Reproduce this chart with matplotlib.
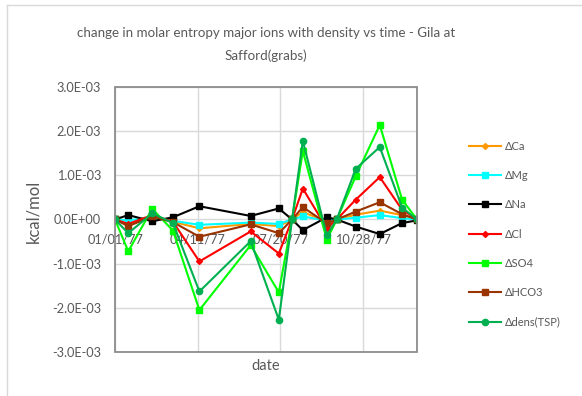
from datetime import date

import matplotlib
matplotlib.use('Agg')
import matplotlib.pyplot as plt
import matplotlib.dates as mdates
from matplotlib.lines import Line2D
from matplotlib.patches import Rectangle

plt.rcParams['font.family'] = ['Lato', 'DejaVu Sans']

# sample dates (Gila at Safford grabs, 1977)
dates = [date(1977, 1, 1), date(1977, 1, 17), date(1977, 2, 15), date(1977, 3, 12),
         date(1977, 4, 13), date(1977, 6, 14), date(1977, 7, 18), date(1977, 8, 3),
         date(1977, 8, 16), date(1977, 9, 14), date(1977, 9, 26), date(1977, 10, 19),
         date(1977, 11, 17), date(1977, 12, 14), date(1978, 1, 1)]

# values in 1E-03 kcal/mol
d_ca = [0, -0.10, 0.08, -0.05, -0.20, -0.10, -0.15, 0, 0.17, -0.05, 0, 0.11, 0.20, 0.10, 0]
d_mg = [0, -0.02, 0.05, -0.03, -0.12, -0.07, -0.10, 0, 0.07, -0.03, 0, 0.04, 0.10, 0.03, 0]
d_na = [0, 0.10, -0.04, 0.05, 0.30, 0.08, 0.25, 0, -0.24, 0.05, 0, -0.16, -0.33, -0.08, -0.02]
d_cl = [0, -0.10, 0.10, -0.05, -0.95, -0.27, -0.77, 0, 0.70, -0.20, 0, 0.45, 0.96, 0.22, 0]
d_so4 = [0, -0.72, 0.24, -0.25, -2.05, -0.58, -1.65, 0, 1.55, -0.46, 0, 0.98, 2.14, 0.45, 0]
d_hco3 = [0, -0.15, 0.07, -0.06, -0.39, -0.11, -0.31, 0, 0.28, -0.09, 0, 0.18, 0.39, 0.12, 0]
d_dens = [0, -0.31, 0.14, -0.08, -1.63, -0.49, -2.27, 0, 1.78, -0.36, 0, 1.15, 1.64, 0.27, 0]

labels = ['ΔCa', 'ΔMg', 'ΔNa', 'ΔCl', 'ΔSO4', 'ΔHCO3', 'Δdens(TSP)']
series = [d_ca, d_mg, d_na, d_cl, d_so4, d_hco3, d_dens]
colors = ['#FF9900', '#00FFFF', '#000000', '#FF0000', '#00FF00', '#993300', '#00B050']
markers = ['D', 's', 's', 'D', 's', 's', 'o']
msizes = [3, 4.5, 5, 3, 4.5, 5, 4.5]

tick_dates = [date(1977, 1, 1), date(1977, 4, 11), date(1977, 7, 20), date(1977, 10, 28)]

grey = '#595959'

fig = plt.figure(figsize=(5.82, 3.96), dpi=100)
ax = fig.add_axes([115 / 582, 1 - 352 / 396, 302 / 582, 265 / 396])

for vals, lab, c, m, ms in zip(series, labels, colors, markers, msizes):
    ax.plot(dates, [v * 1e-3 for v in vals], color=c, marker=m, markersize=ms,
            lw=1.5, label=lab)

ax.set_xlim(date(1977, 1, 1), date(1978, 1, 1))
ax.set_ylim(-3e-3, 3e-3)
ax.set_yticks([i * 1e-3 for i in range(-3, 4)])
ax.yaxis.set_major_formatter(plt.FuncFormatter(lambda v, p: '{:.1E}'.format(v)))
ax.set_xticks(tick_dates)
ax.xaxis.set_major_formatter(mdates.DateFormatter('%m/%d/%y'))

ax.grid(True, color='#D9D9D9', lw=1)
ax.set_axisbelow(True)
ax.tick_params(length=0, labelsize=9.2, labelcolor=grey)
ax.tick_params(axis='x', pad=10)
ax.tick_params(axis='y', pad=10)

ax.spines['bottom'].set_position(('data', 0))
for s in ax.spines.values():
    s.set_visible(False)
ax.add_patch(Rectangle((0, 0), 1, 1, transform=ax.transAxes, fill=False,
                       edgecolor='#8C8C8C', lw=1.3, clip_on=False, zorder=3))

fig.text(266 / 582, 1 - 366 / 396, 'date', ha='center', va='center',
         fontsize=10.5, color=grey)
fig.text(33 / 582, 1 - 211 / 396, 'kcal/mol', ha='center', va='center',
         rotation=90, fontsize=12, color=grey)

fig.text(266 / 582, 1 - 33 / 396, 'change in molar entropy major ions with density vs time - Gila at',
         ha='center', va='center', fontsize=9.6, color=grey)
fig.text(266 / 582, 1 - 56 / 396, 'Safford(grabs)',
         ha='center', va='center', fontsize=9.6, color=grey)

ax.legend(loc='center left', bbox_to_anchor=(469 / 582, 1 - 234 / 396),
          bbox_transform=fig.transFigure, frameon=False, fontsize=8,
          labelspacing=1.65, handlelength=2.9, handletextpad=0.3,
          borderpad=0, borderaxespad=0, labelcolor=grey)

# chart area border (only left and top visible in the crop)
fig.add_artist(Line2D([7 / 582, 7 / 582], [0, 1 - 5 / 396], transform=fig.transFigure,
                      color='#D9D9D9', lw=1))
fig.add_artist(Line2D([7 / 582, 1], [1 - 5 / 396, 1 - 5 / 396], transform=fig.transFigure,
                      color='#D9D9D9', lw=1))

fig.savefig('out.png', dpi=100)
